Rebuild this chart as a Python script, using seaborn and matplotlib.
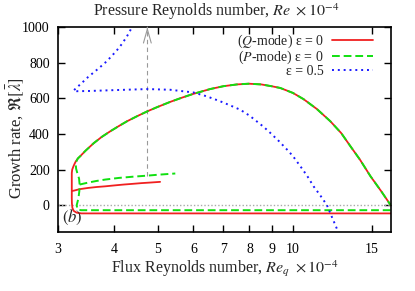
import matplotlib
matplotlib.use("Agg")
import matplotlib.pyplot as plt
from matplotlib.lines import Line2D
import seaborn as sns

# shared arc of the eps = 0 curves
arc_x = [3.36, 3.45, 3.60, 3.75, 3.92, 4.10, 4.27, 4.50, 4.74, 5.00, 5.33, 5.65,
         6.00, 6.54, 7.00, 7.50, 7.97, 8.50, 9.00, 9.37, 10.0, 10.56, 11.3,
         12.11, 12.8, 13.42, 14.1, 14.87, 15.7, 16.5]
arc_y = [275, 305, 348, 383, 415, 445, 471, 500, 527, 552, 580, 603,
         625, 652, 668, 678, 682, 678, 667, 658, 630, 595, 540,
         471, 405, 331, 255, 163, 80, 0]

# Q-mode, eps = 0: lower flat branch -> turning point -> arc
q_x = [17.5, 10.0, 6.0, 4.0, 3.38, 3.30, 3.25, 3.228, 3.22, 3.218, 3.218, 3.225,
       3.245, 3.265, 3.285, 3.32] + arc_x
q_y = [-46, -46, -46, -46, -46, -42, -32, -15, 10, 40, 181, 200,
       218, 233, 246, 262] + arc_y
# Q-mode second branch
q2_x = [3.222, 3.256, 3.35, 3.50, 3.65, 3.82, 4.0, 4.2, 4.4, 4.6, 4.8, 5.06]
q2_y = [80, 82, 90, 97, 102, 106, 111, 116, 120, 124, 127, 131]

# P-mode, eps = 0
p_x = [17.5, 10.0, 6.0, 4.0, 3.38, 3.33, 3.31, 3.30, 3.31, 3.33, 3.345, 3.35,
       3.34, 3.31, 3.29, 3.285, 3.30, 3.32] + arc_x
p_y = [-28, -28, -28, -28, -28, -26, -20, 0, 13, 40, 80, 116,
       150, 181, 205, 228, 250, 263] + arc_y
# P-mode second branch
p2_x = [3.35, 3.50, 3.65, 3.82, 4.09, 4.40, 4.74, 5.0, 5.33, 5.47]
p2_y = [116, 127, 136, 144, 153, 160, 166, 171, 176, 178]

# eps = 0.5
e_x = [4.42, 4.37, 4.27, 4.16, 4.05, 3.95, 3.85, 3.72, 3.62, 3.50, 3.40, 3.30,
       3.245, 3.30, 3.50, 4.0, 4.74, 5.33, 6.0, 6.43, 6.89, 7.25, 7.63, 8.0,
       8.31, 8.60, 8.90, 9.30, 9.70, 10.0, 10.38, 10.75, 11.11, 11.5, 11.90,
       12.2, 12.54, 12.75]
e_y = [1015, 994, 948, 905, 868, 838, 808, 775, 750, 720, 690, 660,
       643, 640, 641, 646, 652, 648, 633, 611, 583, 560, 536, 503,
       470, 440, 406, 360, 312, 275, 219, 165, 106, 55, 0,
       -65, -136, -180]

arrow_x = 4.74
arrow_y0 = 166

x_ticks = [3, 4, 5, 6, 7, 8, 9, 10, 15]
y_ticks = [0, 200, 400, 600, 800, 1000]

sns.set_theme(style="ticks")
plt.rcParams["font.family"] = ["Liberation Serif", "DejaVu Serif"]
plt.rcParams["mathtext.fontset"] = "stix"
plt.rcParams["font.size"] = 10

red = "#f02020"
green = "#10e010"
blue = "#1a1aff"

fig, ax = plt.subplots(figsize=(4.15, 2.91), dpi=100)
fig.subplots_adjust(left=0.140, right=0.9415, top=0.907, bottom=0.203)

ax.axhline(0, color="#aaaaaa", lw=1.0, ls=(0, (1, 1.5)), zorder=1)
ax.plot([arrow_x, arrow_x], [arrow_y0, 985], color="#999999", lw=0.8,
        ls=(0, (4, 3)), zorder=1)
ax.annotate("", xy=(arrow_x, 1000), xytext=(arrow_x, 998),
            arrowprops=dict(arrowstyle="->,head_length=1.0,head_width=0.28",
                            color="#999999", lw=0.8))

sns.lineplot(x=q_x, y=q_y, sort=False, estimator=None, color=red, lw=1.3, ax=ax)
sns.lineplot(x=q2_x, y=q2_y, sort=False, estimator=None, color=red, lw=1.3, ax=ax)
sns.lineplot(x=p_x, y=p_y, sort=False, estimator=None, color=green, lw=1.4,
             ls=(0, (4, 2)), ax=ax)
sns.lineplot(x=p2_x, y=p2_y, sort=False, estimator=None, color=green, lw=1.4,
             ls=(0, (4, 2)), ax=ax)
sns.lineplot(x=e_x, y=e_y, sort=False, estimator=None, color=blue, lw=1.4,
             ls=(0, (1, 2)), ax=ax)

ax.set_xscale("log")
ax.set_xlim(3, 16.5)
ax.set_ylim(-150, 1000)
ax.set_xticks(x_ticks)
ax.set_xticklabels([str(t) for t in x_ticks])
ax.minorticks_off()
ax.set_yticks(y_ticks)
ax.tick_params(direction="in", length=5, width=1, top=True, right=True,
               colors="black", labelsize=10)
ax.tick_params(axis="x", pad=8)
ax.tick_params(axis="y", pad=6)
for s in ax.spines.values():
    s.set_linewidth(1.2)
    s.set_color("black")

ax.set_xlabel(r"Flux Reynolds number, $Re_q\ \times 10^{-4}$", fontsize=11.5, labelpad=2)
ax.set_ylabel(r"Growth rate, $\Re[\bar{\lambda}]$", fontsize=12)
ax.yaxis.set_label_coords(-0.098, 0.46)
ax.text(0.475, 1.025, r"Pressure Reynolds number, $Re\ \times 10^{-4}$", fontsize=11.5,
        ha="center", va="bottom", transform=ax.transAxes)
ax.text(0.012, 0.025, r"$(b)$", fontsize=12, ha="left", va="bottom",
        transform=ax.transAxes)

handles = [
    Line2D([], [], color=red, lw=1.3),
    Line2D([], [], color=green, lw=1.4, ls=(0, (4, 2))),
    Line2D([], [], color=blue, lw=1.4, ls=(0, (1, 2))),
]
labels = [r"($Q$-mode) ε = 0", r"($P$-mode) ε = 0", r"ε = 0.5"]
ax.legend(handles, labels, loc="upper right", bbox_to_anchor=(0.962, 1.0),
          markerfirst=False, frameon=False,
          handlelength=2.9, handletextpad=0.6, labelspacing=-0.1,
          borderaxespad=0.0, fontsize=10)

fig.savefig("out.png", dpi=100)
